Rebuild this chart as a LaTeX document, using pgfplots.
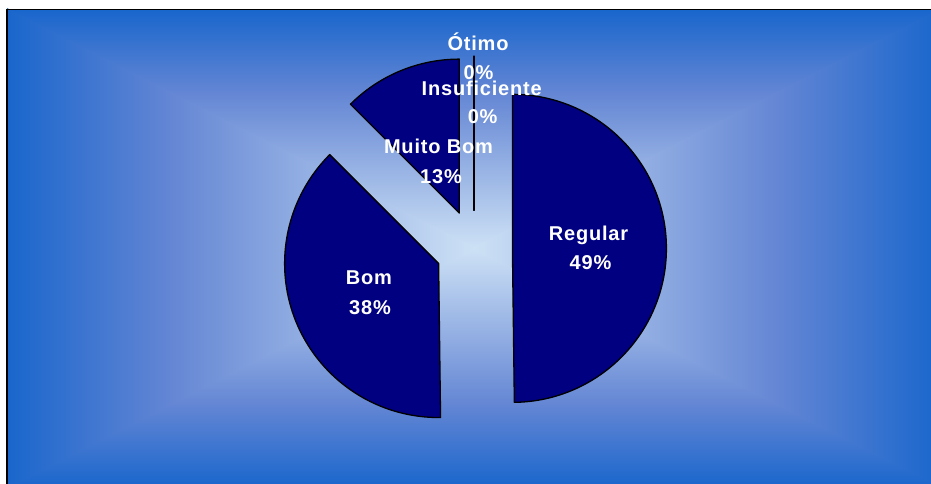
\documentclass[border=0pt]{standalone}
\usepackage{pgfplots}
\pgfplotsset{compat=1.18}
\usepackage{pgfplotstable}
\usepackage{fontspec}
\setmainfont{Liberation Sans}
\definecolor{edgeblue}{RGB}{25,102,204}
\definecolor{midblue}{RGB}{100,134,212}
\definecolor{centerblue}{RGB}{205,225,245}
\definecolor{slicenavy}{RGB}{0,0,128}

\pgfplotstableread[col sep=comma]{
name,value
Regular,49.8
Bom,37.7
Muito Bom,12.5
Insuficiente,0
Otimo,0
}\piedata

\tikzset{lbl/.style={text=white, font=\bfseries\fontsize{20}{24}\selectfont\addfontfeatures{LetterSpace=4}, anchor=base, inner sep=0pt}}

\newcommand\pieslice[2]{%
  \pgfmathsetmacro\ts{3.6*#1}%
  \pgfmathsetmacro\te{3.6*#2}%
  \pgfmathsetmacro\tm{(\ts+\te)/2}%
  \pgfmathsetmacro\vx{474+38.4*sin(\tm)}%
  \pgfmathsetmacro\vy{234.4+38.4*cos(\tm)}%
  \pgfmathsetmacro\ps{90-\ts}%
  \pgfmathsetmacro\pe{90-\te}%
  \edef\next{\noexpand\draw[fill=slicenavy,draw=black,line width=1.3pt,line join=round] (axis cs:\vx,\vy) -- ++(\ps:154pt) arc[start angle=\ps,end angle=\pe,radius=154pt] -- cycle;}%
  \next}

\begin{document}
\begin{tikzpicture}[x=1pt,y=1pt]
\useasboundingbox (0,0) rectangle (931,483);
\clip (0,0) rectangle (931,483);
\fill[white] (0,0) rectangle (931,483);
% rectangular "from centre" gradient background
\begin{scope}
\clip (7,473.5) -- (941,473.5) -- (474,234.4) -- cycle;
\shade[top color=edgeblue, bottom color=midblue] (7,389.8) rectangle (941,473.5);
\shade[top color=midblue, bottom color=centerblue] (7,234.4) rectangle (941,389.8);
\end{scope}
\begin{scope}
\clip (7,-4.7) -- (941,-4.7) -- (474,234.4) -- cycle;
\shade[bottom color=edgeblue, top color=midblue] (7,-4.7) rectangle (941,78.985);
\shade[bottom color=midblue, top color=centerblue] (7,78.985) rectangle (941,234.4);
\end{scope}
\begin{scope}
\clip (7,475) -- (475.5,235.6) -- (475.5,233.2) -- (7,-6.2) -- cycle;
\shade[left color=edgeblue, right color=midblue] (7,-6.2) rectangle (170.45,475);
\shade[left color=midblue, right color=centerblue] (170.45,-6.2) rectangle (474,475);
\fill[centerblue] (474,-6.2) rectangle (475.5,475);
\end{scope}
\begin{scope}
\clip (941,475) -- (472.5,235.6) -- (472.5,233.2) -- (941,-6.2) -- cycle;
\shade[right color=edgeblue, left color=midblue] (777.55,-6.2) rectangle (941,475);
\shade[right color=midblue, left color=centerblue] (474,-6.2) rectangle (777.55,475);
\fill[centerblue] (472.5,-6.2) rectangle (474,475);
\end{scope}
\draw[line width=1.6pt, black] (6.8,-20) -- (6.8,473.5) -- (960,473.5);

% cumulative values
\pgfplotstablegetelem{0}{value}\of\piedata \pgfmathsetmacro\ca{\pgfplotsretval}
\pgfplotstablegetelem{1}{value}\of\piedata \pgfmathsetmacro\cb{\ca+\pgfplotsretval}
\pgfplotstablegetelem{2}{value}\of\piedata \pgfmathsetmacro\cc{\cb+\pgfplotsretval}
\pgfplotstablegetelem{3}{value}\of\piedata \pgfmathsetmacro\cd{\cc+\pgfplotsretval}
\pgfplotstablegetelem{4}{value}\of\piedata \pgfmathsetmacro\ce{\cd+\pgfplotsretval}

\begin{axis}[at={(0,0)}, anchor=south west, x=1pt, y=1pt,
  xmin=0, xmax=931, ymin=0, ymax=483, enlargelimits=false,
  hide axis, clip=false]
\addplot[draw=none, forget plot] coordinates {(474,234.4)};
\pieslice{0}{\ca}
\pieslice{\ca}{\cb}
\pieslice{\cb}{\cc}
\pieslice{\cc}{\cd}
\pieslice{\cd}{\ce}
\node[lbl] at (axis cs:478,432.5) {Ótimo};
\node[lbl] at (axis cs:478.5,403) {0\%};
\node[lbl] at (axis cs:481.7,387.3) {Insuficiente};
\node[lbl] at (axis cs:482.6,359) {0\%};
\node[lbl] at (axis cs:438.5,329.7) {Muito Bom};
\node[lbl] at (axis cs:441,299.7) {13\%};
\node[lbl] at (axis cs:588.5,243) {Regular};
\node[lbl] at (axis cs:590.5,214) {49\%};
\node[lbl] at (axis cs:369,198.7) {Bom};
\node[lbl] at (axis cs:370,169) {38\%};
\end{axis}
\end{tikzpicture}
\end{document}
